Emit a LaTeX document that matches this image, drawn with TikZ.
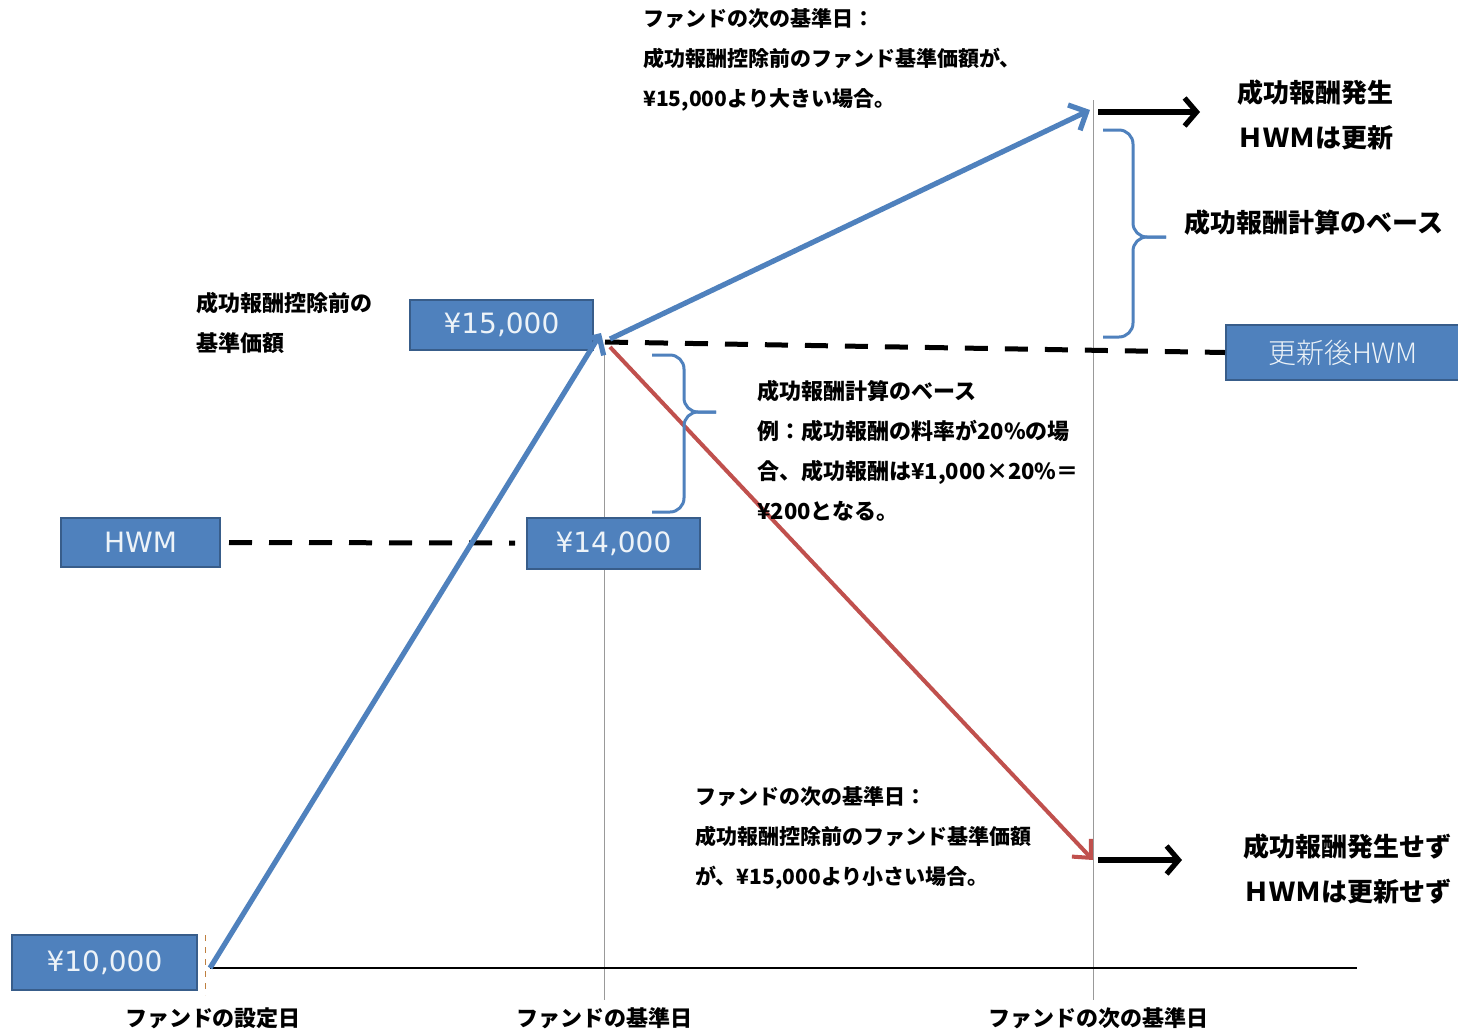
\documentclass[tikz,border=0pt]{standalone}
\usepackage{fontspec}
\setmainfont{Noto Sans CJK JP}
\newfontfamily\boxfont{DejaVu Sans}
\usetikzlibrary{arrows.meta}
\definecolor{obl}{HTML}{4F81BD}
\definecolor{obd}{HTML}{385D8A}
\definecolor{ored}{HTML}{C0504D}
\tikzset{
  valbox/.style={draw=obd, line width=1pt, fill=obl, text=white!90!obl,
    font=\boxfont\fontsize{14}{16}\selectfont, inner sep=0pt},
  bluearrow/.style={draw=obl, line width=2.6pt, -{Straight Barb[length=7pt,width=14pt]}},
  redarrow/.style={draw=ored, line width=2pt, -{Straight Barb[length=7pt,width=13pt]}},
  blackarrow/.style={draw=black, line width=2.6pt, -{Straight Barb[length=6pt,width=14pt]}},
  hwmdash/.style={draw=black, line width=2.5pt, dash pattern=on 11.5pt off 8.5pt},
  guide/.style={draw=black!40, line width=0.5pt},
  bracestyle/.style={draw=obl, line width=1.5pt, rounded corners=7pt},
  note/.style={font=\bfseries\fontsize{10.5}{20}\selectfont, align=left, inner sep=0pt, anchor=north west},
  bignote/.style={font=\bfseries\fontsize{13}{22.5}\selectfont, align=center, inner sep=0pt},
  axislabel/.style={font=\bfseries\fontsize{11}{13}\selectfont, inner sep=0pt}
}
\begin{document}
\begin{tikzpicture}[x=0.5pt,y=-0.5pt]
\useasboundingbox[fill=white] (0,0) rectangle (1458,1035);

% guides
\draw[guide] (604,350) coordinate (g1a) -- (604,1000) coordinate (g1b);
\draw[guide] (1093,100) coordinate (g2a) -- (1093,1000) coordinate (g2b);
\draw[draw=orange!50!gray, line width=0.5pt, dashed] (205,935) coordinate (g0a) -- (205,995) coordinate (g0b);

% axis
\coordinate (o) at (210,968);
\coordinate (axend) at (1357,968);
\draw[line width=1.2pt] (o) -- (axend);

% boxes
\node[valbox, minimum width=92.5pt, minimum height=27.5pt] (b10) at (104.5,962.5) {¥10,000};
\node[valbox, minimum width=91.5pt, minimum height=25pt] (b15) at (501.5,325) {¥15,000};
\node[valbox, minimum width=79.5pt, minimum height=24.5pt] (hwm) at (140.5,542.5) {HWM};
\node[valbox, minimum width=86.5pt, minimum height=25.5pt] (b14) at (613.5,543.5) {¥14,000};
\node[valbox, minimum width=117pt, minimum height=27.5pt, anchor=west] (nhwm) at (1225,352.5) {\fontspec{Noto Sans CJK JP Light}更新後HWM};

% key points
\coordinate (p15) at (601,333);
\coordinate (p15s) at (610,339);
\coordinate (p15r) at (610,347);
\coordinate (up) at (1090,110);
\coordinate (down) at (1093,860);
\coordinate (dstart) at (605,342);

% dashed HWM lines
\draw[hwmdash] (dstart) -- (nhwm.west);
\draw[hwmdash] (hwm.east) ++(8,0) coordinate (hd1) -- (515,543) coordinate (hd2);

% arrows
\draw[bluearrow] (o) -- (p15);
\draw[bluearrow] (p15s) -- (up);
\draw[redarrow] (p15r) -- (down);
\draw[blackarrow] (1098,112) coordinate (ka1) -- (1200,112) coordinate (ka2);
\draw[blackarrow] (1098,860) coordinate (kb1) -- (1182,860) coordinate (kb2);

% braces
\coordinate (br1a) at (1103,130);
\coordinate (br1b) at (1103,337);
\coordinate (br1t) at (1166,237);
\draw[bracestyle] (br1a) -| (1133,237) -- (br1t);
\draw[bracestyle] (br1b) -| (1133,237) -- (br1t);
\coordinate (br2a) at (652,355);
\coordinate (br2b) at (652,512);
\coordinate (br2t) at (716,412);
\draw[bracestyle] (br2a) -| (684,412) -- (br2t);
\draw[bracestyle] (br2b) -| (684,412) -- (br2t);

% notes
\node[note] (n1) at (643,8) {ファンドの次の基準日：\\成功報酬控除前のファンド基準価額が、\\¥15,000より大きい場合。};
\node[bignote] (n2) at (1315,115) {成功報酬発生\\ＨＷＭは更新};
\node[bignote] (n3) at (1314,223) {成功報酬計算のベース};
\node[note, font=\bfseries\fontsize{11}{20}\selectfont] (n4) at (196,292) {成功報酬控除前の\\基準価額};
\node[note, font=\bfseries\fontsize{11}{20}\selectfont] (n5) at (757,380) {成功報酬計算のベース\\例：成功報酬の料率が20\%の場\\合、成功報酬は¥1,000×20\%＝\\¥200となる。};
\node[note] (n6) at (695,786) {ファンドの次の基準日：\\成功報酬控除前のファンド基準価額\\が、¥15,000より小さい場合。};
\node[bignote] (n7) at (1347,869) {成功報酬発生せず\\ＨＷＭは更新せず};

% axis labels
\node[axislabel] (l1) at (213,1018) {ファンドの設定日};
\node[axislabel] (l2) at (604,1018) {ファンドの基準日};
\node[axislabel] (l3) at (1098,1018) {ファンドの次の基準日};
\end{tikzpicture}
\end{document}
